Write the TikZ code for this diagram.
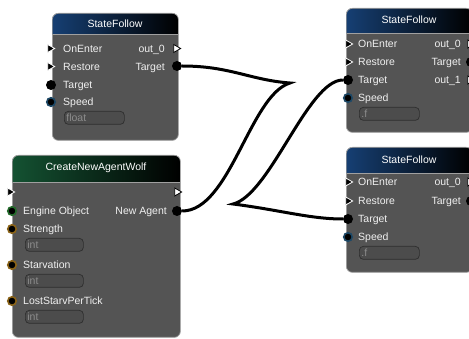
\documentclass[tikz,border=0pt]{standalone}
\usepackage{fontspec}
\setmainfont{Liberation Sans}
\usepackage{tikz}
\usetikzlibrary{shapes.geometric, positioning}
\definecolor{panelGray}{HTML}{545454}
\definecolor{frameGray}{HTML}{A0A0A0}
\definecolor{fieldGray}{HTML}{4C4C4C}
\definecolor{fieldLine}{HTML}{2E2E2E}
\definecolor{fieldText}{HTML}{8C8C8C}
\definecolor{labelWhite}{HTML}{F0F0F0}
\definecolor{titleBlue}{HTML}{163F73}
\definecolor{titleGreen}{HTML}{145232}
\definecolor{portBlue}{HTML}{1D4866}
\definecolor{portGreen}{HTML}{236B2A}
\definecolor{portBrown}{HTML}{8A6318}
\tikzset{
  uifont/.style={font=\fontsize{10.5}{12}\selectfont},
  panel/.style 2 args={draw=frameGray, fill=panelGray, rounded corners=6pt, line width=0.7pt,
    inner sep=0pt, anchor=north west, path picture={
      \shade[sharp corners, left color=#1, right color=black] (path picture bounding box.north west)
        rectangle ([yshift=-#2]path picture bounding box.north east);
      \draw[sharp corners, frameGray, line width=0.8pt] ([yshift=-#2]path picture bounding box.north west)
        -- ([yshift=-#2]path picture bounding box.north east);}},
  title/.style={uifont, text=white, inner sep=0pt},
  plabel/.style={uifont, text=labelWhite, inner sep=0pt, text height=7.5pt, text depth=0pt, anchor=west},
  rlabel/.style={plabel, anchor=east},
  dot/.style={circle, inner sep=0pt, minimum size=10pt, fill=black},
  ringdot/.style={dot, draw=#1, line width=1.6pt, minimum size=8.5pt},
  flowin/.style={isosceles triangle, isosceles triangle apex angle=60, isosceles triangle stretches,
    minimum height=7pt, minimum width=8pt, inner sep=0pt, fill=black, draw=white, line width=0.8pt},
  flowout/.style={flowin, fill=white, draw=black},
  field/.style={uifont, draw=fieldLine, fill=fieldGray, rounded corners=4pt, line width=0.7pt,
    minimum height=13pt, inner sep=2pt, anchor=north west, text=fieldText, align=left},
  link/.style={line width=3pt, black}
}

\begin{document}
\begin{tikzpicture}[x=1pt, y=-1pt]
\useasboundingbox (0,0) rectangle (469,339);
\fill[white] (0,0) rectangle (469,339);
\clip (0,0) rectangle (469,339);

% StateFollow (top left)
\node[panel={titleBlue}{21pt}, minimum width=126pt, minimum height=127pt] (sfA) at (52,13) {};
\node[title] at (115,24) {StateFollow};
\node[flowin] (sfAenter) at (50,48.5) {};
\node[plabel] at (63,48.5) {OnEnter};
\node[flowin] (sfArestore) at (50,66.5) {};
\node[plabel] at (63,66.5) {Restore};
\node[dot] (sfAtarget) at (51,85) {};
\node[plabel] at (63,85) {Target};
\node[ringdot=portBlue] (sfAspeed) at (51,102) {};
\node[plabel] at (63,102) {Speed};
\node[field, text width=56pt] (sfAfield) at (64,111) {float};
\node[rlabel] at (165,48.5) {out\_0};
\node[flowout] (sfAout) at (176,48.5) {};
\node[rlabel] at (165,66.5) {Target};
\node[dot] (sfAtgtout) at (177,66) {};

% CreateNewAgentWolf
\node[panel={titleGreen}{27pt}, minimum width=168pt, minimum height=182pt] (wolf) at (12,155) {};
\node[title] at (96,168) {CreateNewAgentWolf};
\node[flowin] (wolfin) at (10,192) {};
\node[flowout] (wolfout) at (177,192) {};
\node[ringdot=portGreen] (wolfengine) at (12,211) {};
\node[plabel] at (23,211) {Engine Object};
\node[rlabel] at (167,211) {New Agent};
\node[dot] (wolfagent) at (177,211) {};
\node[ringdot=portBrown] (wolfstrength) at (12,229) {};
\node[plabel] at (23,229) {Strength};
\node[field, text width=54pt] at (25,238) {int};
\node[ringdot=portBrown] (wolfstarv) at (12,265) {};
\node[plabel] at (23,265) {Starvation};
\node[field, text width=54pt] at (25,274) {int};
\node[ringdot=portBrown] (wolflost) at (12,301) {};
\node[plabel] at (23,301) {LostStarvPerTick};
\node[field, text width=54pt] at (25,310) {int};

% StateFollow (top right)
\node[panel={titleBlue}{25pt}, minimum width=126pt, minimum height=124pt] (sfB) at (346,8) {};
\node[title] at (409,20) {StateFollow};
\node[flowin] (sfBenter) at (348,44) {};
\node[plabel] at (358,44) {OnEnter};
\node[flowin] (sfBrestore) at (348,62) {};
\node[plabel] at (358,62) {Restore};
\node[dot] (sfBtarget) at (348,80) {};
\node[plabel] at (358,80) {Target};
\node[ringdot=portBlue] (sfBspeed) at (348,98) {};
\node[plabel] at (358,98) {Speed};
\node[field, text width=56pt] at (359,107) {.f};
\node[rlabel] at (461,44) {out\_0};
\node[flowout] (sfBout) at (470,44) {};
\node[rlabel] at (461,62) {Target};
\node[dot] (sfBtgtout) at (471,62) {};
\node[rlabel] at (461,80) {out\_1};
\node[flowout] (sfBout1) at (470,80) {};

% StateFollow (bottom right)
\node[panel={titleBlue}{26pt}, minimum width=126pt, minimum height=125pt] (sfC) at (346,147) {};
\node[title] at (409,160) {StateFollow};
\node[flowin] (sfCenter) at (348,182) {};
\node[plabel] at (358,182) {OnEnter};
\node[flowin] (sfCrestore) at (348,201) {};
\node[plabel] at (358,201) {Restore};
\node[dot] (sfCtarget) at (348,219) {};
\node[plabel] at (358,219) {Target};
\node[ringdot=portBlue] (sfCspeed) at (348,237) {};
\node[plabel] at (358,237) {Speed};
\node[field, text width=56pt] at (359,246) {.f};
\node[rlabel] at (461,182) {out\_0};
\node[flowout] (sfCout) at (470,182) {};
\node[rlabel] at (461,201) {Target};
\node[dot] (sfCtgtout) at (471,201) {};

% links
\coordinate (kinkA) at (290,83);
\coordinate (kinkB) at (233,204);
\draw[link] (sfAtgtout) .. controls (230,66) and (250,80) .. (kinkA)
  .. controls (250,95) and (230,211) .. (wolfagent);
\draw[link] (sfBtarget) .. controls (308,80) and (270,195) .. (kinkB)
  .. controls (280,210) and (310,219) .. (sfCtarget);
\end{tikzpicture}
\end{document}
